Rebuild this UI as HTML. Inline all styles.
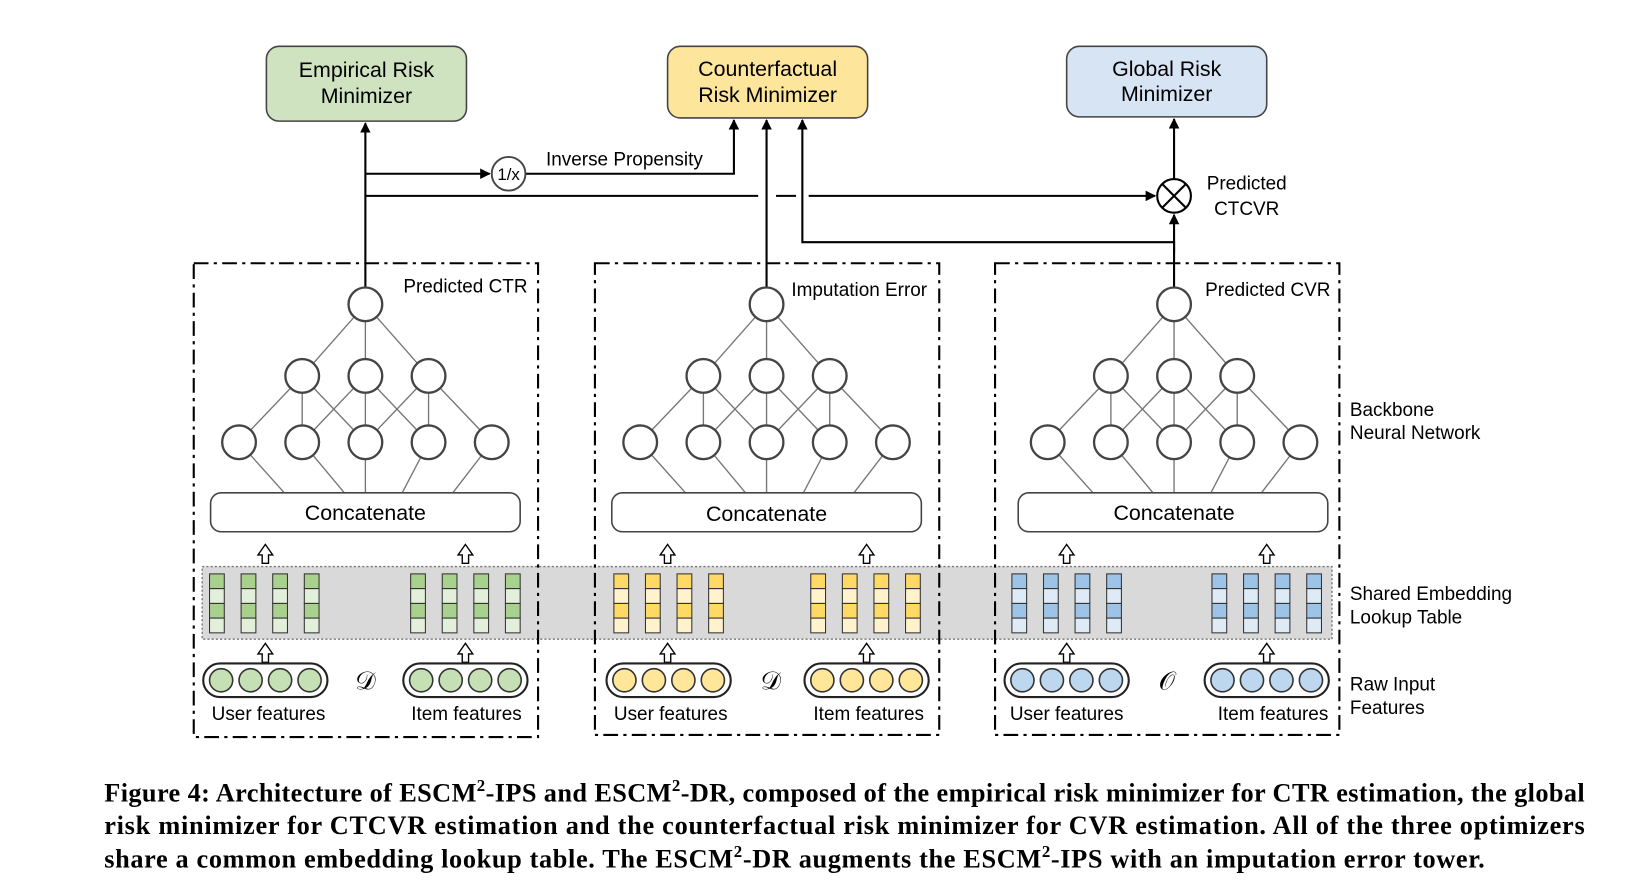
<!DOCTYPE html>
<html><head><meta charset="utf-8"><style>
html,body{margin:0;padding:0;background:#fff;}
svg{display:block;}
.t{font-family:"Liberation Sans",sans-serif;font-size:18px;fill:#000;}
.b{font-size:20.3px;}
.cap{font-family:"Liberation Serif",serif;font-weight:bold;font-size:25px;fill:#000;}
</style></head><body>
<svg width="1650" height="894" viewBox="0 0 1567 849" xmlns="http://www.w3.org/2000/svg">
<defs>
<marker id="ah" markerWidth="10" markerHeight="10" refX="9" refY="5" orient="auto" markerUnits="userSpaceOnUse"><path d="M0,0 L10,5 L0,10 z" fill="#000"/></marker>
<g id="harrow"><path d="M-3,12 L-3,4 L-7,4 L0,-6 L7,4 L3,4 L3,12 Z" fill="#fff" stroke="#000" stroke-width="1.3"/></g>
<g id="net" stroke="#777" stroke-width="1.3" fill="none">
<line x1="0" y1="0" x2="-60" y2="68"/><line x1="0" y1="0" x2="0" y2="68"/><line x1="0" y1="0" x2="60" y2="68"/>
<line x1="-60" y1="68" x2="-120" y2="131"/><line x1="-60" y1="68" x2="-60" y2="131"/><line x1="-60" y1="68" x2="0" y2="131"/>
<line x1="0" y1="68" x2="-60" y2="131"/><line x1="0" y1="68" x2="0" y2="131"/><line x1="0" y1="68" x2="60" y2="131"/>
<line x1="60" y1="68" x2="0" y2="131"/><line x1="60" y1="68" x2="60" y2="131"/><line x1="60" y1="68" x2="120" y2="131"/>
<line x1="-120" y1="131" x2="-77" y2="179"/><line x1="-60" y1="131" x2="-20" y2="179"/><line x1="0" y1="131" x2="0" y2="179"/><line x1="60" y1="131" x2="35" y2="179"/><line x1="120" y1="131" x2="83" y2="179"/>
</g>
<g id="nodes" fill="#fff" stroke="#444" stroke-width="2.2">
<circle cx="0" cy="0" r="16"/>
<circle cx="-60" cy="68" r="16"/><circle cx="0" cy="68" r="16"/><circle cx="60" cy="68" r="16"/>
<circle cx="-120" cy="131" r="16"/><circle cx="-60" cy="131" r="16"/><circle cx="0" cy="131" r="16"/><circle cx="60" cy="131" r="16"/><circle cx="120" cy="131" r="16"/>
</g>
</defs>

<rect x="253" y="44" width="190" height="71" rx="12" fill="#cfe3c1" stroke="#444" stroke-width="1.5"/>
<text class="t b" x="348" y="73" text-anchor="middle">Empirical Risk</text>
<text class="t b" x="348" y="98" text-anchor="middle">Minimizer</text>
<rect x="634" y="44" width="190" height="68" rx="12" fill="#fde59c" stroke="#444" stroke-width="1.5"/>
<text class="t b" x="729" y="72" text-anchor="middle">Counterfactual</text>
<text class="t b" x="729" y="97" text-anchor="middle">Risk Minimizer</text>
<rect x="1013" y="44" width="190" height="67" rx="12" fill="#d7e4f3" stroke="#444" stroke-width="1.5"/>
<text class="t b" x="1108" y="72" text-anchor="middle">Global Risk</text>
<text class="t b" x="1108" y="96" text-anchor="middle">Minimizer</text>

<g stroke="#000" stroke-width="2" fill="none">
<line x1="347" y1="273" x2="347" y2="117" marker-end="url(#ah)"/>
<line x1="347" y1="165" x2="465" y2="165" marker-end="url(#ah)"/>
<polyline points="499,165 697,165 697,114" marker-end="url(#ah)"/>
<line x1="728" y1="273" x2="728" y2="114" marker-end="url(#ah)"/>
<polyline points="1115,273 1115,230 762,230 762,114" marker-end="url(#ah)"/>
<line x1="1115" y1="240" x2="1115" y2="204" marker-end="url(#ah)"/>
<polyline points="347,186 720,186"/>
<polyline points="737,186 756,186"/>
<line x1="768" y1="186" x2="1097" y2="186" marker-end="url(#ah)"/>
<line x1="1115" y1="170" x2="1115" y2="113" marker-end="url(#ah)"/>
</g>
<circle cx="483" cy="165" r="16" fill="#fff" stroke="#444" stroke-width="1.8"/>
<text class="t" x="483" y="171" text-anchor="middle" style="font-size:16px">1/x</text>
<text class="t" x="593" y="157" text-anchor="middle">Inverse Propensity</text>
<circle cx="1115" cy="186" r="16" fill="#fff" stroke="#000" stroke-width="2"/>
<line x1="1104" y1="175" x2="1126" y2="197" stroke="#000" stroke-width="2"/>
<line x1="1126" y1="175" x2="1104" y2="197" stroke="#000" stroke-width="2"/>
<text class="t" x="1184" y="180" text-anchor="middle">Predicted</text>
<text class="t" x="1184" y="204" text-anchor="middle">CTCVR</text>

<rect x="192" y="538" width="1073" height="69" fill="#d9d9d9" stroke="#777" stroke-width="1.3" stroke-dasharray="2,2"/>

<g fill="none" stroke="#000" stroke-width="2" stroke-dasharray="14,5,3,5">
<rect x="184" y="250" width="327" height="450"/>
<rect x="565" y="250" width="327" height="448"/>
<rect x="945" y="250" width="327" height="448"/>
</g>

<use href="#net" x="347" y="289"/><use href="#nodes" x="347" y="289"/>
<use href="#net" x="728" y="289"/><use href="#nodes" x="728" y="289"/>
<use href="#net" x="1115" y="289"/><use href="#nodes" x="1115" y="289"/>
<text class="t" x="442" y="278" text-anchor="middle">Predicted CTR</text>
<text class="t" x="816" y="281" text-anchor="middle">Imputation Error</text>
<text class="t" x="1204" y="281" text-anchor="middle">Predicted CVR</text>

<g fill="#fff" stroke="#444" stroke-width="1.5">
<rect x="200" y="468" width="294" height="37" rx="10"/>
<rect x="581" y="468" width="294" height="37" rx="10"/>
<rect x="967" y="468" width="294" height="37" rx="10"/>
</g>
<text class="t b" x="347" y="494" text-anchor="middle">Concatenate</text>
<text class="t b" x="728" y="495" text-anchor="middle">Concatenate</text>
<text class="t b" x="1115" y="494" text-anchor="middle">Concatenate</text>

<use href="#harrow" x="252" y="523"/><use href="#harrow" x="442" y="523"/>
<use href="#harrow" x="252" y="617"/><use href="#harrow" x="442" y="617"/>
<use href="#harrow" x="634" y="523"/><use href="#harrow" x="823" y="523"/>
<use href="#harrow" x="634" y="617"/><use href="#harrow" x="823" y="617"/>
<use href="#harrow" x="1013" y="523"/><use href="#harrow" x="1203" y="523"/>
<use href="#harrow" x="1013" y="617"/><use href="#harrow" x="1203" y="617"/>

<g stroke="#333" stroke-width="1">
<g fill="#a9d18e">
<rect x="199" y="545" width="14" height="14"/><rect x="199" y="573" width="14" height="14"/>
<rect x="229" y="545" width="14" height="14"/><rect x="229" y="573" width="14" height="14"/>
<rect x="259" y="545" width="14" height="14"/><rect x="259" y="573" width="14" height="14"/>
<rect x="289" y="545" width="14" height="14"/><rect x="289" y="573" width="14" height="14"/>
<rect x="390" y="545" width="14" height="14"/><rect x="390" y="573" width="14" height="14"/>
<rect x="420" y="545" width="14" height="14"/><rect x="420" y="573" width="14" height="14"/>
<rect x="450" y="545" width="14" height="14"/><rect x="450" y="573" width="14" height="14"/>
<rect x="480" y="545" width="14" height="14"/><rect x="480" y="573" width="14" height="14"/>
</g>
<g fill="#e2efda">
<rect x="199" y="559" width="14" height="14"/><rect x="199" y="587" width="14" height="14"/>
<rect x="229" y="559" width="14" height="14"/><rect x="229" y="587" width="14" height="14"/>
<rect x="259" y="559" width="14" height="14"/><rect x="259" y="587" width="14" height="14"/>
<rect x="289" y="559" width="14" height="14"/><rect x="289" y="587" width="14" height="14"/>
<rect x="390" y="559" width="14" height="14"/><rect x="390" y="587" width="14" height="14"/>
<rect x="420" y="559" width="14" height="14"/><rect x="420" y="587" width="14" height="14"/>
<rect x="450" y="559" width="14" height="14"/><rect x="450" y="587" width="14" height="14"/>
<rect x="480" y="559" width="14" height="14"/><rect x="480" y="587" width="14" height="14"/>
</g>
<g fill="#ffd966">
<rect x="583" y="545" width="14" height="14"/><rect x="583" y="573" width="14" height="14"/>
<rect x="613" y="545" width="14" height="14"/><rect x="613" y="573" width="14" height="14"/>
<rect x="643" y="545" width="14" height="14"/><rect x="643" y="573" width="14" height="14"/>
<rect x="673" y="545" width="14" height="14"/><rect x="673" y="573" width="14" height="14"/>
<rect x="770" y="545" width="14" height="14"/><rect x="770" y="573" width="14" height="14"/>
<rect x="800" y="545" width="14" height="14"/><rect x="800" y="573" width="14" height="14"/>
<rect x="830" y="545" width="14" height="14"/><rect x="830" y="573" width="14" height="14"/>
<rect x="860" y="545" width="14" height="14"/><rect x="860" y="573" width="14" height="14"/>
</g>
<g fill="#fff2cc">
<rect x="583" y="559" width="14" height="14"/><rect x="583" y="587" width="14" height="14"/>
<rect x="613" y="559" width="14" height="14"/><rect x="613" y="587" width="14" height="14"/>
<rect x="643" y="559" width="14" height="14"/><rect x="643" y="587" width="14" height="14"/>
<rect x="673" y="559" width="14" height="14"/><rect x="673" y="587" width="14" height="14"/>
<rect x="770" y="559" width="14" height="14"/><rect x="770" y="587" width="14" height="14"/>
<rect x="800" y="559" width="14" height="14"/><rect x="800" y="587" width="14" height="14"/>
<rect x="830" y="559" width="14" height="14"/><rect x="830" y="587" width="14" height="14"/>
<rect x="860" y="559" width="14" height="14"/><rect x="860" y="587" width="14" height="14"/>
</g>
<g fill="#9dc3e6">
<rect x="961" y="545" width="14" height="14"/><rect x="961" y="573" width="14" height="14"/>
<rect x="991" y="545" width="14" height="14"/><rect x="991" y="573" width="14" height="14"/>
<rect x="1021" y="545" width="14" height="14"/><rect x="1021" y="573" width="14" height="14"/>
<rect x="1051" y="545" width="14" height="14"/><rect x="1051" y="573" width="14" height="14"/>
<rect x="1151" y="545" width="14" height="14"/><rect x="1151" y="573" width="14" height="14"/>
<rect x="1181" y="545" width="14" height="14"/><rect x="1181" y="573" width="14" height="14"/>
<rect x="1211" y="545" width="14" height="14"/><rect x="1211" y="573" width="14" height="14"/>
<rect x="1241" y="545" width="14" height="14"/><rect x="1241" y="573" width="14" height="14"/>
</g>
<g fill="#deebf7">
<rect x="961" y="559" width="14" height="14"/><rect x="961" y="587" width="14" height="14"/>
<rect x="991" y="559" width="14" height="14"/><rect x="991" y="587" width="14" height="14"/>
<rect x="1021" y="559" width="14" height="14"/><rect x="1021" y="587" width="14" height="14"/>
<rect x="1051" y="559" width="14" height="14"/><rect x="1051" y="587" width="14" height="14"/>
<rect x="1151" y="559" width="14" height="14"/><rect x="1151" y="587" width="14" height="14"/>
<rect x="1181" y="559" width="14" height="14"/><rect x="1181" y="587" width="14" height="14"/>
<rect x="1211" y="559" width="14" height="14"/><rect x="1211" y="587" width="14" height="14"/>
<rect x="1241" y="559" width="14" height="14"/><rect x="1241" y="587" width="14" height="14"/>
</g>
</g>

<g fill="#fff" stroke="#222" stroke-width="2">
<rect x="193" y="630" width="118" height="32" rx="16"/><rect x="383" y="630" width="118" height="32" rx="16"/>
<rect x="576" y="630" width="118" height="32" rx="16"/><rect x="764" y="630" width="118" height="32" rx="16"/>
<rect x="954" y="630" width="118" height="32" rx="16"/><rect x="1144" y="630" width="118" height="32" rx="16"/>
</g>
<g stroke="#333" stroke-width="1.5">
<g fill="#c5e0b4">
<circle cx="210" cy="646" r="11"/><circle cx="238" cy="646" r="11"/><circle cx="266" cy="646" r="11"/><circle cx="294" cy="646" r="11"/>
<circle cx="400" cy="646" r="11"/><circle cx="428" cy="646" r="11"/><circle cx="456" cy="646" r="11"/><circle cx="484" cy="646" r="11"/>
</g>
<g fill="#ffe699">
<circle cx="593" cy="646" r="11"/><circle cx="621" cy="646" r="11"/><circle cx="649" cy="646" r="11"/><circle cx="677" cy="646" r="11"/>
<circle cx="781" cy="646" r="11"/><circle cx="809" cy="646" r="11"/><circle cx="837" cy="646" r="11"/><circle cx="865" cy="646" r="11"/>
</g>
<g fill="#bdd7ee">
<circle cx="971" cy="646" r="11"/><circle cx="999" cy="646" r="11"/><circle cx="1027" cy="646" r="11"/><circle cx="1055" cy="646" r="11"/>
<circle cx="1161" cy="646" r="11"/><circle cx="1189" cy="646" r="11"/><circle cx="1217" cy="646" r="11"/><circle cx="1245" cy="646" r="11"/>
</g>
</g>
<text x="347" y="655" text-anchor="middle" font-family="'Liberation Serif',serif" font-size="24">𝒟</text>
<text x="732" y="655" text-anchor="middle" font-family="'Liberation Serif',serif" font-size="24">𝒟</text>
<text x="1108" y="655" text-anchor="middle" font-family="'Liberation Serif',serif" font-size="24">𝒪</text>

<text class="t" x="255" y="684" text-anchor="middle">User features</text>
<text class="t" x="443" y="684" text-anchor="middle">Item features</text>
<text class="t" x="637" y="684" text-anchor="middle">User features</text>
<text class="t" x="825" y="684" text-anchor="middle">Item features</text>
<text class="t" x="1013" y="684" text-anchor="middle">User features</text>
<text class="t" x="1209" y="684" text-anchor="middle">Item features</text>

<text class="t" x="1282" y="395">Backbone</text>
<text class="t" x="1282" y="417">Neural Network</text>
<text class="t" x="1282" y="570">Shared Embedding</text>
<text class="t" x="1282" y="592">Lookup Table</text>
<text class="t" x="1282" y="656">Raw Input</text>
<text class="t" x="1282" y="678">Features</text>

<text class="cap" x="99" y="761" textLength="1406" lengthAdjust="spacing">Figure 4: Architecture of ESCM<tspan style="font-size:16px" dy="-10">2</tspan><tspan dy="10">-IPS and ESCM</tspan><tspan style="font-size:16px" dy="-10">2</tspan><tspan dy="10">-DR, composed of the empirical risk minimizer for CTR estimation, the global</tspan></text>
<text class="cap" x="99" y="792" textLength="1406" lengthAdjust="spacing">risk minimizer for CTCVR estimation and the counterfactual risk minimizer for CVR estimation. All of the three optimizers</text>
<text class="cap" x="99" y="824" textLength="1311" lengthAdjust="spacing">share a common embedding lookup table. The ESCM<tspan style="font-size:16px" dy="-10">2</tspan><tspan dy="10">-DR augments the ESCM</tspan><tspan style="font-size:16px" dy="-10">2</tspan><tspan dy="10">-IPS with an imputation error tower.</tspan></text>
</svg>
</body></html>
